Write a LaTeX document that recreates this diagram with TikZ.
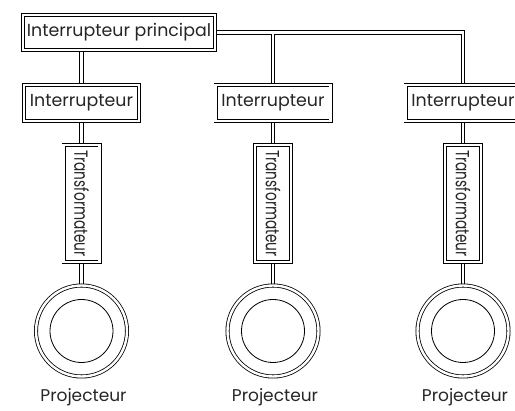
\documentclass[tikz,border=0pt]{standalone}
\usepackage{fontspec}
\setmainfont{Poppins}
\usetikzlibrary{backgrounds}
\begin{document}
\begin{tikzpicture}[x=1pt,y=-1pt,
  dbox/.style={draw=black, line width=0.8pt, double=white, double distance=2.4pt,
    fill=white, inner sep=0pt, outer sep=0pt, text=black!85,
    font=\fontsize{17.4}{20}\selectfont},
  mainbox/.style={dbox, minimum width=192pt, minimum height=35pt},
  ibox/.style={dbox, minimum width=115pt, minimum height=36pt},
  tbox/.style={dbox, minimum width=36pt, minimum height=117pt, font=\fontsize{19}{20}\selectfont},
  proj/.style={draw=black, circle, line width=0.8pt, double=white, double distance=2.4pt,
    fill=white, inner sep=0pt, outer sep=0pt, minimum size=91pt},
  projin/.style={draw=black, circle, line width=0.8pt, inner sep=0pt, minimum size=63pt},
  plabel/.style={anchor=base, text=black!85, font=\fontsize{17}{20}\selectfont, inner sep=0pt},
  cblack/.style={draw=black, line width=4.2pt},
  cwhite/.style={draw=white, line width=2.4pt}]
\useasboundingbox (0,0) rectangle (515,411);

\node[mainbox] (m) at (119,32.5) {Interrupteur principal};
\foreach \k/\x in {1/81.5, 2/273, 3/463} {
  \node[ibox] (i\k) at (\x,103) {Interrupteur};
  \node[tbox] (t\k) at (\x,203.5) {\rotatebox{-90}{\scalebox{0.72}[1]{Transformateur}}};
  \node[proj] (p\k) at (\x,331) {};
  \node[projin] (q\k) at (p\k.center) {};
  \node[plabel] (l\k) at ([xshift=2pt]\x,401.5) {Projecteur};
}

\begin{scope}[on background layer]
\foreach \s in {cblack, cwhite} {
  \draw[\s] (i1.north |- m.south) -- (i1.north);
  \draw[\s] (m.east) -- (m.east -| i3.north) -- (i3.north);
  \draw[\s] (i2.north |- m.east) -- (i2.north);
  \foreach \k in {1,2,3} {
    \draw[\s] (i\k.center) -- (t\k.center);
    \draw[\s] (t\k.center) -- (p\k.center);
  }
}
\end{scope}
\end{tikzpicture}
\end{document}
